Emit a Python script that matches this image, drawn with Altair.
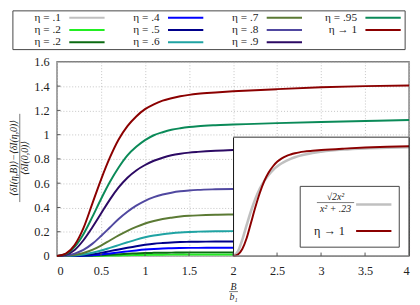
import altair as alt
import pandas as pd

# ---------------- data ----------------
X_PTS = [0, 0.1, 0.2, 0.3, 0.4, 0.5, 0.6, 0.7, 0.8, 0.9, 1.0, 1.1, 1.2, 1.3, 1.4, 1.5, 1.6, 1.8, 2.0, 2.5, 3.0, 3.5, 4.0]

ETA_01 = [0, 0, 0, 0, 0.0002, 0.0005, 0.001, 0.0015, 0.002, 0.0025, 0.003, 0.0032, 0.0035, 0.0037, 0.0038, 0.0039, 0.004, 0.004, 0.004, 0.004, 0.004, 0.004, 0.004]
ETA_02 = [0, 0, 0, 0.0003, 0.001, 0.002, 0.0035, 0.005, 0.0065, 0.008, 0.009, 0.010, 0.011, 0.0115, 0.012, 0.0125, 0.0125, 0.013, 0.013, 0.013, 0.013, 0.013, 0.013]
ETA_02B = [0, 0, 0.0003, 0.001, 0.003, 0.006, 0.010, 0.014, 0.018, 0.021, 0.024, 0.026, 0.027, 0.028, 0.029, 0.030, 0.030, 0.030, 0.030, 0.031, 0.031, 0.031, 0.031]
ETA_04 = [0, 0, 0.001, 0.003, 0.007, 0.013, 0.021, 0.030, 0.038, 0.046, 0.053, 0.058, 0.062, 0.064, 0.066, 0.067, 0.067, 0.068, 0.068, 0.069, 0.069, 0.069, 0.069]
ETA_05 = [0, 0, 0.002, 0.006, 0.014, 0.026, 0.040, 0.054, 0.068, 0.081, 0.092, 0.101, 0.107, 0.112, 0.115, 0.117, 0.118, 0.119, 0.120, 0.120, 0.121, 0.121, 0.121]
ETA_06 = [0, 0.001, 0.005, 0.013, 0.027, 0.045, 0.067, 0.090, 0.113, 0.135, 0.154, 0.169, 0.180, 0.188, 0.194, 0.198, 0.201, 0.204, 0.205, 0.207, 0.208, 0.208, 0.208]
ETA_07 = [0, 0.002, 0.010, 0.025, 0.050, 0.086, 0.128, 0.170, 0.208, 0.240, 0.268, 0.289, 0.305, 0.316, 0.325, 0.331, 0.335, 0.340, 0.342, 0.345, 0.346, 0.347, 0.347]
ETA_08 = [0, 0.004, 0.020, 0.050, 0.100, 0.165, 0.235, 0.305, 0.365, 0.415, 0.455, 0.485, 0.507, 0.522, 0.533, 0.540, 0.545, 0.550, 0.553, 0.557, 0.559, 0.560, 0.560]
ETA_09 = [0, 0.010, 0.050, 0.130, 0.235, 0.350, 0.465, 0.565, 0.645, 0.705, 0.750, 0.785, 0.810, 0.830, 0.843, 0.852, 0.858, 0.867, 0.873, 0.880, 0.885, 0.888, 0.890]
ETA_095 = [0, 0.015, 0.075, 0.180, 0.320, 0.470, 0.610, 0.730, 0.830, 0.900, 0.955, 0.995, 1.020, 1.040, 1.053, 1.063, 1.070, 1.078, 1.083, 1.095, 1.105, 1.113, 1.120]
ETA_1 = [0, 0.020, 0.090, 0.230, 0.430, 0.630, 0.810, 0.960, 1.070, 1.150, 1.210, 1.250, 1.280, 1.300, 1.316, 1.328, 1.337, 1.348, 1.357, 1.375, 1.390, 1.400, 1.406]

# sqrt(2) x^2 / (x^2 + .23), tabulated values
FIT = [0, 0.059, 0.210, 0.398, 0.580, 0.737, 0.863, 0.962, 1.040, 1.102, 1.150, 1.188, 1.219, 1.245, 1.266, 1.283, 1.298, 1.321, 1.337, 1.364, 1.379, 1.388, 1.394]

SERIES_IDS = ["e01", "e02", "e02b", "e04", "e05", "e06", "e07", "e08", "e09", "e095", "e1"]
SERIES_LABELS = ["η = .1", "η = .2", "η = .2", "η = .4", "η = .5", "η = .6",
                 "η = .7", "η = .8", "η = .9", "η = .95", "η → 1"]
SERIES_COLORS = ["#c0c0c0", "#22ee22", "#0b6b12", "#0000ff", "#00008b", "#1fa3a3",
                 "#5b7a34", "#5048a0", "#2c0a64", "#0a8a58", "#8b0000"]
SERIES_VALUES = [ETA_01, ETA_02, ETA_02B, ETA_04, ETA_05, ETA_06, ETA_07, ETA_08, ETA_09, ETA_095, ETA_1]

X_TICKS = [0, 0.5, 1, 1.5, 2, 2.5, 3, 3.5, 4]
Y_TICKS = [0, 0.2, 0.4, 0.6, 0.8, 1.0, 1.2, 1.4, 1.6]
X_INNER_TICKS = [0.5, 1, 1.5, 2, 2.5, 3, 3.5]
Y_INNER_TICKS = [0.2, 0.4, 0.6, 0.8, 1.0, 1.2, 1.4]

INSET_LABELS = ["√2x²", "x² + .23", "η → 1"]
INSET_COLORS = ["#c0c0c0", "#8b0000"]
X_TITLE = ["B", "b₁"]
Y_TITLE = ["⟨δI(η,B)⟩−⟨δI(η,0)⟩", "⟨δI(0,0)⟩"]

FONT = "Liberation Serif, DejaVu Serif, serif"
W, H = 359, 198

# ---------------- tables ----------------
rows = []
for sid, vals in zip(SERIES_IDS, SERIES_VALUES):
    for xv, yv in zip(X_PTS, vals):
        rows.append({"sid": sid, "x": xv, "y": yv})
df_main = pd.DataFrame(rows)

df_inset = pd.DataFrame({"xi": X_PTS, "fit": FIT, "red": ETA_1})

df_leg = pd.DataFrame({
    "sid": SERIES_IDS,
    "label": SERIES_LABELS,
    "col": [i // 3 for i in range(len(SERIES_IDS))],
    "row": [i % 3 for i in range(len(SERIES_IDS))],
})

color_scale = alt.Scale(domain=SERIES_IDS, range=SERIES_COLORS)
dummy = pd.DataFrame({"a": [0]})

# ---------------- main curves ----------------
main = alt.Chart(df_main).mark_line(strokeWidth=2, interpolate="monotone").encode(
    x=alt.X("x:Q", scale=alt.Scale(domain=[0, 4], nice=False),
            axis=alt.Axis(values=X_TICKS, format="~g", title=None, grid=True,
                          gridDash=[1, 2], gridColor="#b5b5b5", gridWidth=0.8,
                          tickSize=0, domain=False, labelFont=FONT, labelFontSize=12.5,
                          labelColor="#222", labelPadding=9)),
    y=alt.Y("y:Q", scale=alt.Scale(domain=[0, 1.6], nice=False),
            axis=alt.Axis(values=Y_TICKS, format="~g", title=None, grid=True,
                          gridDash=[1, 2], gridColor="#b5b5b5", gridWidth=0.8,
                          tickSize=0, domain=False, labelFont=FONT, labelFontSize=12.5,
                          labelColor="#222", labelPadding=8)),
    color=alt.Color("sid:N", scale=color_scale, legend=None),
)

# ---------------- inset ----------------
inset_bg = alt.Chart(dummy).mark_rect(fill="white").encode(
    x=alt.value(180), x2=alt.value(W), y=alt.value(77), y2=alt.value(H))

ix = alt.X("xi:Q", scale=alt.Scale(domain=[0, 4], range=[180, W], nice=False), axis=None)
inset_fit = alt.Chart(df_inset).mark_line(strokeWidth=2.6, color=INSET_COLORS[0], interpolate="monotone").encode(
    x=ix, y=alt.Y("fit:Q", scale=alt.Scale(domain=[0, 1.52], range=[H, 77], nice=False), axis=None))
inset_red = alt.Chart(df_inset).mark_line(strokeWidth=2, color=INSET_COLORS[1], interpolate="monotone").encode(
    x=ix, y=alt.Y("red:Q", scale=alt.Scale(domain=[0, 1.52], range=[H, 77], nice=False), axis=None))

inset_left = alt.Chart(dummy).mark_rule(color="#111", strokeWidth=1).encode(
    x=alt.value(180), y=alt.value(77), y2=alt.value(H))
inset_right = alt.Chart(dummy).mark_rule(color="#111", strokeWidth=1).encode(
    x=alt.value(W), y=alt.value(77), y2=alt.value(H))
inset_top = alt.Chart(dummy).mark_rule(color="#777", strokeWidth=1.5).encode(
    x=alt.value(180), x2=alt.value(W), y=alt.value(77))
bottom_frame = alt.Chart(dummy).mark_rule(color="#808080", strokeWidth=1.5).encode(
    x=alt.value(180), x2=alt.value(W), y=alt.value(H))

# inward ticks
xt = alt.Chart(pd.DataFrame({"t": X_INNER_TICKS})).mark_rule(color="#555", strokeWidth=1).encode(
    x=alt.X("t:Q", scale=alt.Scale(domain=[0, 4], nice=False), axis=None),
    y=alt.value(H), y2=alt.value(H - 3.5))
yt = alt.Chart(pd.DataFrame({"t": Y_INNER_TICKS})).mark_rule(color="#555", strokeWidth=1).encode(
    y=alt.Y("t:Q", scale=alt.Scale(domain=[0, 1.6], nice=False), axis=None),
    x=alt.value(0), x2=alt.value(3.5))

# inset legend
il_box = alt.Chart(dummy).mark_rect(fill="white", stroke="#444", strokeWidth=1).encode(
    x=alt.value(248), x2=alt.value(349), y=alt.value(127), y2=alt.value(189))
il_num = alt.Chart(pd.DataFrame({"t": [INSET_LABELS[0]]})).mark_text(
    font=FONT, fontSize=10, fontStyle="italic", color="#222", baseline="middle", align="center").encode(
    text="t:N", x=alt.value(284), y=alt.value(137.5))
il_bar = alt.Chart(dummy).mark_rule(color="#222", strokeWidth=0.6).encode(
    x=alt.value(265), x2=alt.value(303), y=alt.value(143.5))
il_den = alt.Chart(pd.DataFrame({"t": [INSET_LABELS[1]]})).mark_text(
    font=FONT, fontSize=10, fontStyle="italic", color="#222", baseline="middle", align="center").encode(
    text="t:N", x=alt.value(284), y=alt.value(150))
il_eta = alt.Chart(pd.DataFrame({"t": [INSET_LABELS[2]]})).mark_text(
    font=FONT, fontSize=12.5, color="#222", baseline="middle", align="left").encode(
    text="t:N", x=alt.value(262), y=alt.value(173))
il_l1 = alt.Chart(dummy).mark_rule(color=INSET_COLORS[0], strokeWidth=2.5).encode(
    x=alt.value(305), x2=alt.value(341), y=alt.value(145.5))
il_l2 = alt.Chart(dummy).mark_rule(color=INSET_COLORS[1], strokeWidth=2).encode(
    x=alt.value(305), x2=alt.value(341), y=alt.value(172.5))

# main legend
leg_box = alt.Chart(dummy).mark_rect(fill="white", stroke="#444", strokeWidth=1).encode(
    x=alt.value(-45), x2=alt.value(355), y=alt.value(-52), y2=alt.value(-12.5))
lx = alt.X("col:Q", scale=alt.Scale(domain=[0, 3], range=[4, 306], nice=False), axis=None)
ly = alt.Y("row:Q", scale=alt.Scale(domain=[0, 2], range=[-45, -20], nice=False), axis=None)
leg_text = alt.Chart(df_leg).mark_text(font=FONT, fontSize=11.5, color="#222", align="right", baseline="middle").encode(
    x=lx, y=ly, text="label:N")
leg_lines = alt.Chart(df_leg).mark_rule(strokeWidth=2, xOffset=8.5, x2Offset=44.5).encode(
    x=lx, x2="col:Q", y=ly,
    color=alt.Color("sid:N", scale=color_scale, legend=None))

# axis titles
xt_top = alt.Chart(pd.DataFrame({"t": [X_TITLE[0]]})).mark_text(
    font=FONT, fontSize=10, fontStyle="italic", color="#222", baseline="middle", align="center").encode(
    text="t:N", x=alt.value(180), y=alt.value(229.5))
xt_bar = alt.Chart(dummy).mark_rule(color="#222", strokeWidth=0.6).encode(
    x=alt.value(175.5), x2=alt.value(184.5), y=alt.value(234.3))
xt_bot = alt.Chart(pd.DataFrame({"t": [X_TITLE[1]]})).mark_text(
    font=FONT, fontSize=10, fontStyle="italic", color="#222", baseline="middle", align="center").encode(
    text="t:N", x=alt.value(180), y=alt.value(239.8))

yt_num = alt.Chart(pd.DataFrame({"t": [Y_TITLE[0]]})).mark_text(
    font=FONT, fontSize=10, fontStyle="italic", color="#222", baseline="middle", align="center", angle=270).encode(
    text="t:N", x=alt.value(-43.5), y=alt.value(98))
yt_bar = alt.Chart(dummy).mark_rule(color="#222", strokeWidth=0.6).encode(
    x=alt.value(-38), y=alt.value(53), y2=alt.value(143))
yt_den = alt.Chart(pd.DataFrame({"t": [Y_TITLE[1]]})).mark_text(
    font=FONT, fontSize=10, fontStyle="italic", color="#222", baseline="middle", align="center", angle=270).encode(
    text="t:N", x=alt.value(-32.5), y=alt.value(98))

chart = alt.layer(
    main, inset_bg, inset_fit, inset_red, inset_left, inset_right, inset_top, bottom_frame,
    xt, yt, il_box, il_num, il_bar, il_den, il_eta, il_l1, il_l2,
    leg_box, leg_text, leg_lines,
    xt_top, xt_bar, xt_bot, yt_num, yt_bar, yt_den,
).resolve_scale(
    x="independent", y="independent", color="independent"
).properties(
    width=W, height=H,
    autosize=alt.AutoSizeParams(type="none"),
    padding={"left": 50, "top": 52, "right": 3, "bottom": 45},
).configure_view(
    stroke="#808080", strokeWidth=1.5
)

chart.save("out.html", embed_options={"renderer": "svg", "actions": False})
